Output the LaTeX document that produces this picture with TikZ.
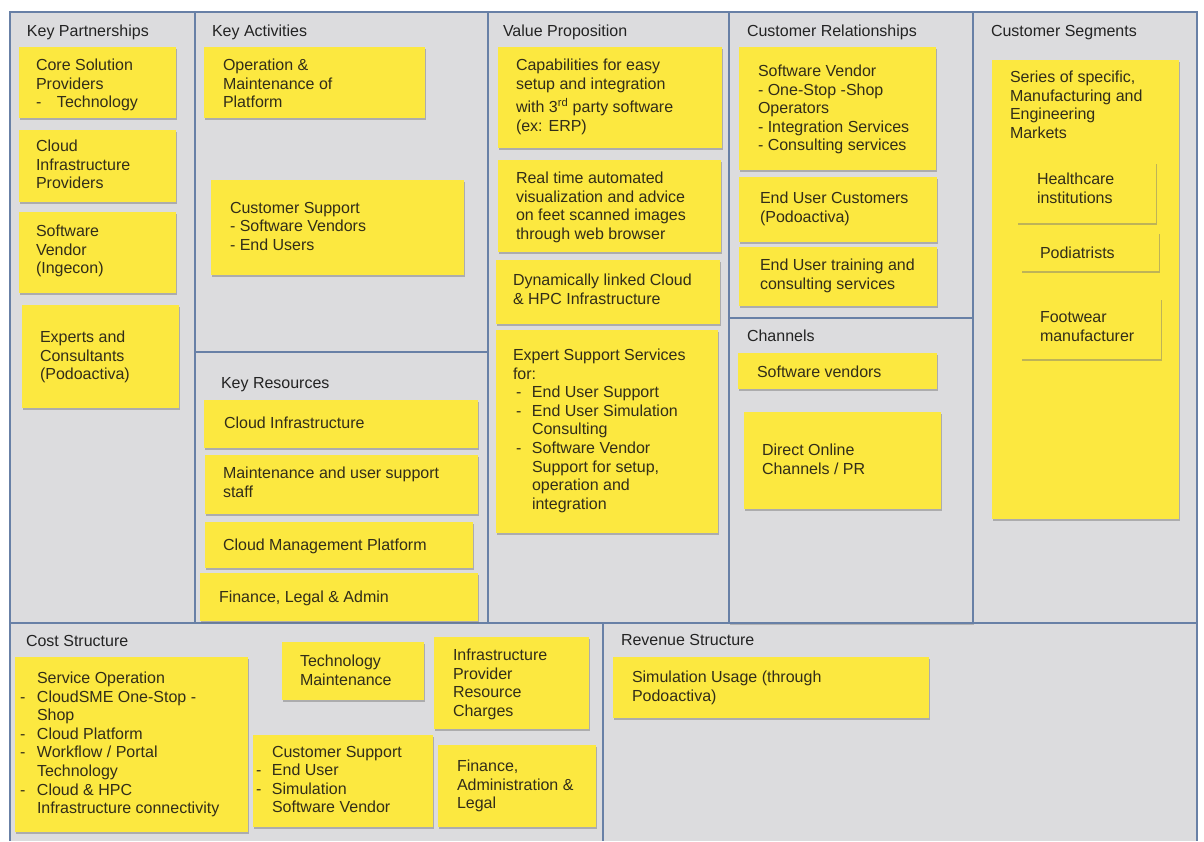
\documentclass[tikz,border=0pt]{standalone}
\usepackage{fontspec}
\setmainfont{Liberation Sans}
\usetikzlibrary{shadows}

\definecolor{boardGrey}{RGB}{220,220,222}
\definecolor{frameBlue}{RGB}{104,128,166}
\definecolor{stickyYellow}{RGB}{252,232,64}
\definecolor{noteInk}{RGB}{50,45,25}
\definecolor{titleInk}{RGB}{35,35,35}

\newcommand\notefont{\fontsize{16}{18.6}\selectfont}
% a leading dash set in a box of fixed width
\newcommand\lead[1]{\makebox[#1][l]{-}}
% sticky note: name, x1, y1, x2, y2 (pixel-like units, y downwards)
\newcommand\sticky[5]{\node[note, minimum width=#4pt-#2pt, minimum height=#5pt-#3pt] (#1) at (#2,#3) {};}

\tikzset{
  note/.style={anchor=north west, inner sep=0pt, outer sep=0pt, fill=stickyYellow, draw=none,
    drop shadow={shadow xshift=0.8pt, shadow yshift=-2.4pt, opacity=0.45, fill=black!55}},
  % placed at the baseline of the first line (strut height 0.7 x 18.6pt)
  ntext/.style={anchor=north west, yshift=13.02pt, inner sep=0pt, outer sep=0pt, align=left,
    text=noteInk, font=\notefont, execute at begin node=\strut},
  title/.style={anchor=base west, inner sep=0pt, outer sep=0pt, text=titleInk, font=\notefont},
  frame/.style={draw=frameBlue, line width=1.5pt},
}

\begin{document}
\begin{tikzpicture}[x=1pt,y=-1pt]
\useasboundingbox (0,0) rectangle (1204,841);
\fill[white] (0,0) rectangle (1204,841);
\fill[boardGrey] (10,12) rectangle (1197,841);

% Channels block casts a light shadow
\path[fill=boardGrey, drop shadow={shadow xshift=1pt, shadow yshift=-1.5pt, opacity=0.35, fill=black!60}]
  (729,318) rectangle (973,623);

% board grid
\draw[frame] (10,841) -- (10,12) -- (1197,12) -- (1197,841);
\draw[frame] (195,12) -- (195,623);
\draw[frame] (488,12) -- (488,623);
\draw[frame] (729,12) -- (729,623);
\draw[frame] (973,12) -- (973,623);
\draw[frame] (10,623) -- (1197,623);
\draw[frame] (195,352) -- (488,352);
\draw[frame] (729,318) -- (973,318);
\draw[frame] (603,623) -- (603,841);

% section titles
\node[title] (tKP) at (27,36) {Key Partnerships};
\node[title] (tKA) at (212,36) {Key Activities};
\node[title] (tVP) at (503,36) {Value Proposition};
\node[title] (tCR) at (747,36) {Customer Relationships};
\node[title] (tCS) at (991,36) {Customer Segments};
\node[title] (tKR) at (221,388) {Key Resources};
\node[title] (tCH) at (747,341) {Channels};
\node[title] (tCO) at (26,646) {Cost Structure};
\node[title] (tRV) at (621,645) {Revenue Structure};

% Key Partnerships
\sticky{kpA}{19}{47}{176}{118}
\begin{scope}
  \clip (19,47) rectangle (176,110.5);
  \node[ntext] (kpAt) at (36,72) {Core Solution\\Providers\\\lead{21pt}Technology};
\end{scope}
\sticky{kpB}{19}{130}{176}{202}
\node[ntext] (kpBt) at (36,153) {Cloud\\Infrastructure\\Providers};
\sticky{kpC}{19}{212}{176}{293}
\node[ntext] (kpCt) at (36,238) {Software\\Vendor\\(Ingecon)};
\sticky{kpD}{22}{305}{179}{408}
\node[ntext] (kpDt) at (40,344) {Experts and\\Consultants\\(Podoactiva)};

% Key Activities
\sticky{kaA}{204}{47}{425}{118}
\begin{scope}
  \clip (204,47) rectangle (425,111);
  \node[ntext] (kaAt) at (223,72) {Operation \&\\Maintenance of\\Platform};
\end{scope}
\sticky{kaB}{211}{180}{464}{275}
\node[ntext] (kaBt) at (230,215) {Customer Support\\- Software Vendors\\- End Users};

% Key Resources
\sticky{krA}{204}{400}{478}{448}
\node[ntext] (krAt) at (224,428) {Cloud Infrastructure};
\sticky{krB}{205}{455}{478}{514}
\node[ntext] (krBt) at (223,480) {Maintenance and user support\\staff};
\sticky{krC}{205}{522}{473}{568}
\node[ntext] (krCt) at (223,550) {Cloud Management Platform};
\sticky{krD}{200}{573}{478}{621}
\node[ntext] (krDt) at (219,602) {Finance, Legal \& Admin};

% Value Proposition
\sticky{vpA}{498}{47}{722}{148}
\node[ntext] (vpAt) at (516,72) {Capabilities for easy\\setup and integration\\[5pt]with 3\textsuperscript{rd} party software\\(ex: ERP)};
\sticky{vpB}{498}{160}{721}{252}
\begin{scope}
  \clip (498,160) rectangle (721,242);
  \node[ntext] (vpBt) at (516,185) {Real time automated\\visualization and advice\\on feet scanned images\\through web browser};
\end{scope}
\sticky{vpC}{496}{260}{720}{324}
\node[ntext] (vpCt) at (513,287) {Dynamically linked Cloud\\\& HPC Infrastructure};
\sticky{vpD}{496}{330}{718}{533}
\node[ntext] (vpDt) at (513,362) {Expert Support Services\\for:\\
  \hspace*{3pt}\lead{16pt}End User Support\\
  \hspace*{3pt}\lead{16pt}End User Simulation\\
  \hspace*{19pt}Consulting\\
  \hspace*{3pt}\lead{16pt}Software Vendor\\
  \hspace*{19pt}Support for setup,\\
  \hspace*{19pt}operation and\\
  \hspace*{19pt}integration};

% Customer Relationships
\sticky{crA}{739}{47}{936}{170}
\node[ntext] (crAt) at (758,78) {Software Vendor\\- One-Stop -Shop\\Operators\\- Integration Services\\- Consulting services};
\sticky{crB}{739}{177}{937}{242}
\node[ntext] (crBt) at (760,205) {End User Customers\\(Podoactiva)};
\sticky{crC}{739}{247}{937}{306}
\node[ntext] (crCt) at (760,272) {End User training and\\consulting services};

% Channels
\sticky{chA}{738}{353}{937}{389}
\node[ntext] (chAt) at (757,377) {Software vendors};
\sticky{chB}{744}{412}{941}{509}
\node[ntext] (chBt) at (762,457) {Direct Online\\Channels / PR};

% Customer Segments
\sticky{csA}{992}{60}{1179}{519}
\node[ntext] (csAt) at (1010,84) {Series of specific,\\Manufacturing and\\Engineering\\Markets};
\sticky{csB}{1017}{162}{1156}{223}
\node[ntext] (csBt) at (1037,186) {Healthcare\\institutions};
\sticky{csC}{1021}{232}{1159}{271}
\node[ntext] (csCt) at (1040,258) {Podiatrists};
\sticky{csD}{1021}{298}{1161}{359}
\node[ntext] (csDt) at (1040,325) {Footwear\\manufacturer};

% Cost Structure
\sticky{coA}{15}{657}{248}{832}
\node[ntext] (coAt) at (20,685) {\hspace*{17pt}Service Operation\\
  \lead{17pt}CloudSME One-Stop -\\
  \hspace*{17pt}Shop\\
  \lead{17pt}Cloud Platform\\
  \lead{17pt}Workflow / Portal\\
  \hspace*{17pt}Technology\\
  \lead{17pt}Cloud \& HPC\\
  \hspace*{17pt}Infrastructure connectivity};
\sticky{coB}{282}{642}{424}{700}
\node[ntext] (coBt) at (300,668) {Technology\\Maintenance};
\sticky{coC}{434}{637}{589}{729}
\begin{scope}
  \clip (434,637) rectangle (589,719);
  \node[ntext] (coCt) at (453,662) {Infrastructure\\Provider\\Resource\\Charges};
\end{scope}
\sticky{coD}{253}{735}{433}{827}
\node[ntext] (coDt) at (256,759) {\hspace*{16pt}Customer Support\\
  \lead{16pt}End User\\
  \lead{16pt}Simulation\\
  \hspace*{16pt}Software Vendor};
\sticky{coE}{438}{745}{596}{827}
\node[ntext] (coEt) at (457,773) {Finance,\\Administration \&\\Legal};

% Revenue Structure
\sticky{rvA}{613}{657}{929}{718}
\node[ntext] (rvAt) at (632,684) {Simulation Usage (through\\Podoactiva)};
\end{tikzpicture}
\end{document}
